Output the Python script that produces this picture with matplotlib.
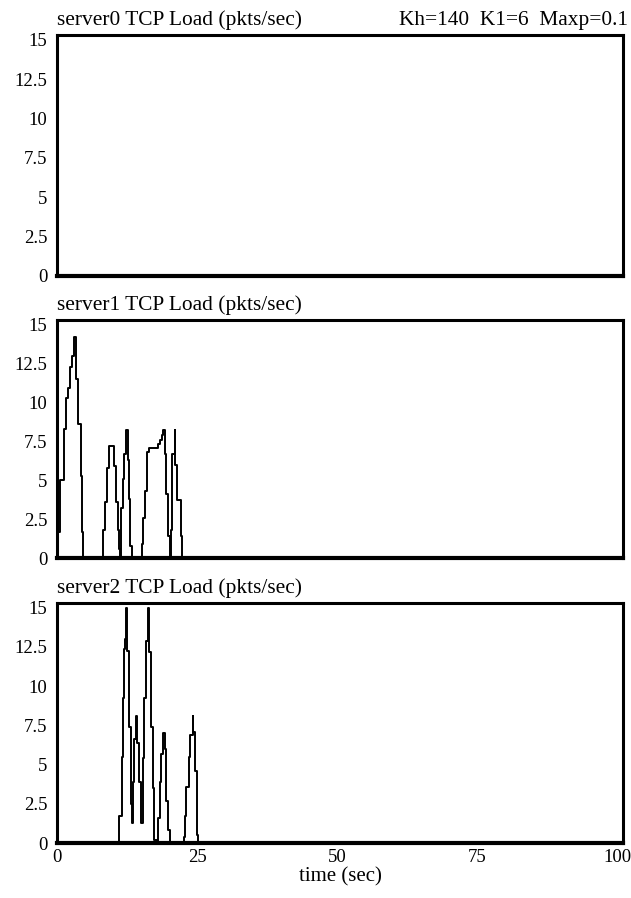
import matplotlib
matplotlib.use("Agg")
import matplotlib.pyplot as plt

plt.rcParams['font.family'] = ['Liberation Serif', 'DejaVu Serif']

# server0: idle the whole run
t0 = [0, 100]
v0 = [0, 0]

# server1 load (time sec, pkts/sec), step samples
t1 = [0, 0.1, 0.6, 1.3, 1.6, 1.9, 2.3, 2.7, 3.0, 3.4, 3.7, 4.2, 4.5, 4.6,
      8.3, 8.6, 8.9, 9.3, 10.2, 10.5, 10.8, 11.0, 11.2,
      11.4, 11.7, 12.0, 12.4, 12.6, 12.85, 13.1, 13.3,
      15.1, 15.4, 15.7, 16.0, 16.1, 16.4, 18.0, 18.4, 18.8, 19.0, 19.2, 19.5, 19.8, 20.1, 20.2,
      20.4, 20.5, 20.6, 21.0, 21.1, 21.5, 22.1, 22.3, 100]
v1 = [1.7, 1.7, 5.0, 8.3, 10.3, 10.9, 12.3, 13.0, 14.2, 11.5, 8.6, 5.3, 1.7, 0,
      1.8, 3.6, 5.8, 7.2, 5.9, 3.6, 1.8, 0.6, 0,
      3.2, 5.1, 6.7, 8.2, 6.3, 3.8, 0.75, 0,
      0.9, 2.6, 4.3, 5.5, 6.8, 7.1, 7.3, 7.6, 7.9, 8.2, 6.7, 4.1, 1.4, 1.1, 0,
      1.8, 4.0, 6.7, 8.2, 6.0, 3.7, 1.4, 0, 0]

# server2 load
t2 = [0, 11.1, 11.6, 11.7, 12.0, 12.1, 12.3, 12.55, 12.85, 13.15, 13.3,
      13.5, 13.7, 14.1, 14.3, 14.7, 15.0,
      15.4, 15.6, 15.8, 16.2, 16.5, 16.8, 17.1, 17.4, 17.9,
      18.1, 18.4, 18.6, 18.9, 19.2, 19.5, 19.9, 20.2,
      22.7, 22.8, 23.1, 23.5, 23.8, 24.2, 24.3, 24.6, 24.9, 25.05, 25.2, 100]
v2 = [0, 1.75, 5.5, 9.25, 12.4, 13.0, 15.0, 12.25, 7.4, 2.5, 1.25,
      3.9, 6.6, 8.1, 6.4, 3.9, 1.3,
      5.4, 9.25, 12.9, 15.0, 12.2, 7.4, 3.5, 0.2, 0,
      1.6, 3.9, 5.7, 7.0, 6.0, 2.7, 0.8, 0,
      0.4, 1.75, 3.6, 5.5, 6.9, 8.1, 7.1, 4.6, 2.1, 0.5, 0, 0]

yticks = [0, 2.5, 5, 7.5, 10, 12.5, 15]
ylabels = ['0', '2.5', '5', '7.5', '10', '12.5', '15']
xticks = [0, 25, 50, 75, 100]

fig = plt.figure(figsize=(6.31, 8.98), dpi=100)
boxes = [[0.0903, 0.6927, 0.897, 0.2684],
         [0.0903, 0.3786, 0.897, 0.2650],
         [0.0903, 0.0612, 0.897, 0.2673]]
series = [(t0, v0), (t1, v1), (t2, v2)]
titles = ['server0 TCP Load (pkts/sec)', 'server1 TCP Load (pkts/sec)',
          'server2 TCP Load (pkts/sec)']

for i, (box, (t, v), ttl) in enumerate(zip(boxes, series, titles)):
    ax = fig.add_axes(box)
    ax.plot(t, v, color='black', lw=1.4, drawstyle='steps-post', clip_on=False)
    ax.set_xlim(0, 101)
    ax.set_ylim(0, 15.3)
    ax.set_yticks(yticks)
    ax.set_yticklabels(ylabels)
    ax.set_xticks(xticks)
    ax.tick_params(length=0, labelsize=13.5, pad=7)
    for s in ax.spines.values():
        s.set_linewidth(2.2)
    ax.spines['bottom'].set_linewidth(3)
    if i < 2:
        ax.set_xticklabels([])
    else:
        ax.tick_params(axis='x', pad=4)
        ax.set_xlabel('time (sec)', fontsize=15, labelpad=1)
    ax.text(0.0, 1.042, ttl, transform=ax.transAxes, fontsize=15.4,
            ha='left', va='baseline')
    if i == 0:
        ax.text(1.008, 1.042, 'Kh=140  K1=6  Maxp=0.1', transform=ax.transAxes,
                fontsize=15.4, ha='right', va='baseline')

fig.savefig('out.png', dpi=100)
